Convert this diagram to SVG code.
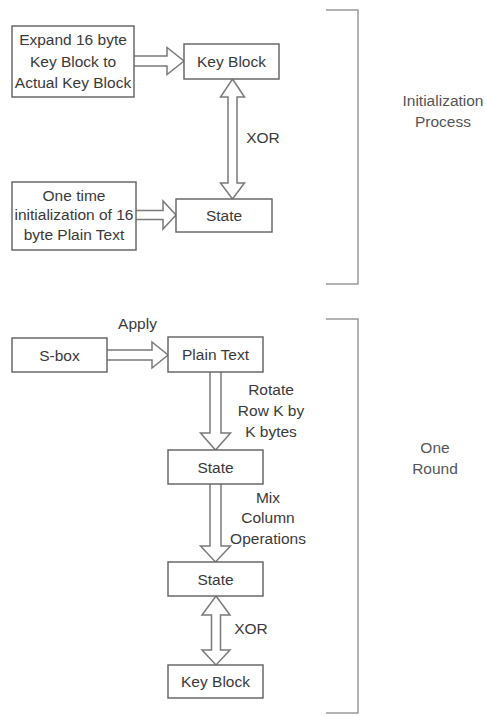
<svg xmlns="http://www.w3.org/2000/svg" width="486" height="716" viewBox="0 0 486 716">
<style>
.box{fill:#fff;stroke:#6a6a6a;stroke-width:1.5}
.arr{fill:#fff;stroke:#7a7a7a;stroke-width:1.5;stroke-linejoin:miter}
.br{fill:none;stroke:#9a9a9a;stroke-width:1.5}
text{font-family:"Liberation Sans",Arial,sans-serif;font-size:15.5px;fill:#3a3a3a;text-anchor:middle}
.side{fill:#555}
</style>
<rect width="486" height="716" fill="#fff"/>
<g id="connectors">
<path class="arr" d="M134,56 H167 V47.5 L184,61 L167,74.5 V66 H134"/>
<path class="arr" d="M136,210.5 H163 V201 L176,215 L163,229 V219.5 H136"/>
<path class="arr" d="M232.5,79 L244.5,97 H237 V183 H244.5 L232.5,199 L220.5,183 H228 V97 H220.5 Z"/>
<path class="arr" d="M107,350 H152 V342 L168,355 L152,368 V360 H107"/>
<path class="arr" d="M210,372 V433 H200.5 L215.5,450 L230.5,433 H221 V372"/>
<path class="arr" d="M210,484 V546 H200.5 L215.5,562 L230.5,546 H221 V484"/>
<path class="arr" d="M216,596 L230,615 H220.5 V650 H230 L216,665 L202,650 H211.5 V615 H202 Z"/>
</g>
<g id="brackets">
<path class="br" d="M326,10 H358 V284 H326"/>
<path class="br" d="M326,319 H358 V713 H326"/>
</g>
<g id="expand"><rect class="box" x="12" y="26" width="122" height="71"/>
<text x="73" y="44.5">Expand 16 byte</text><text x="73" y="66.5">Key Block to</text><text x="73" y="87.5">Actual Key Block</text></g>
<g id="keyblock1"><rect class="box" x="184" y="44" width="95" height="35"/><text x="231.5" y="67">Key Block</text></g>
<g id="onetime"><rect class="box" x="12" y="182" width="124" height="68"/>
<text x="74" y="200.5">One time</text><text x="74" y="220">initialization of 16</text><text x="74" y="239.5">byte Plain Text</text></g>
<g id="state0"><rect class="box" x="176" y="199" width="96" height="33"/><text x="224" y="221">State</text></g>
<g id="xor1"><text x="263" y="142.5">XOR</text></g>
<g id="init-label"><text class="side" x="443" y="105.5">Initialization</text><text class="side" x="443" y="126.5">Process</text></g>
<g id="sbox"><rect class="box" x="12" y="338" width="95" height="34"/><text x="59.5" y="360.5">S-box</text></g>
<g id="apply"><text x="137.5" y="328.5">Apply</text></g>
<g id="plaintext"><rect class="box" x="168" y="337" width="95" height="35"/><text x="215.5" y="360">Plain Text</text></g>
<g id="rotate"><text x="271" y="394.5">Rotate</text><text x="271" y="415.5">Row K by</text><text x="271" y="436.5">K bytes</text></g>
<g id="state1"><rect class="box" x="168" y="450" width="95" height="34"/><text x="215.5" y="472.5">State</text></g>
<g id="mix"><text x="268" y="502.5">Mix</text><text x="268" y="522.5">Column</text><text x="268" y="543.5">Operations</text></g>
<g id="state2"><rect class="box" x="168" y="562" width="95" height="34"/><text x="215.5" y="584.5">State</text></g>
<g id="xor2"><text x="251" y="633.5">XOR</text></g>
<g id="keyblock2"><rect class="box" x="168" y="665" width="95" height="33"/><text x="215.5" y="687">Key Block</text></g>
<g id="round-label"><text class="side" x="435" y="452.5">One</text><text class="side" x="435" y="473.5">Round</text></g>
</svg>
